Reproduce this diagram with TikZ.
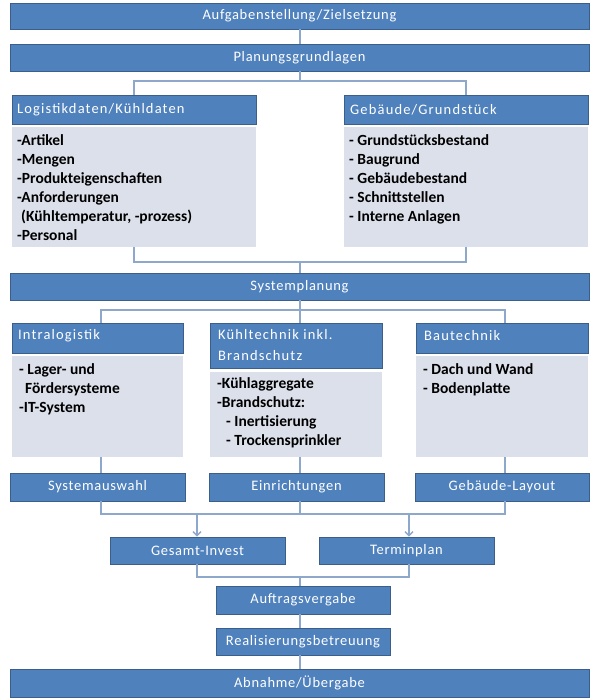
\documentclass[tikz,border=0pt]{standalone}
\usepackage{fontspec}
\setmainfont{Carlito}
\newfontfamily\barfont[LetterSpace=5]{Carlito}
\newfontfamily\headfont[LetterSpace=8]{Carlito}
\usetikzlibrary{arrows.meta}
\definecolor{barblue}{HTML}{4F81BD}
\definecolor{barline}{HTML}{3B5E8A}
\definecolor{bodyfill}{HTML}{DCE0EA}
\definecolor{conn}{HTML}{8DA8CB}
\tikzset{
 bar/.style={draw=barline, fill=barblue, line width=0.8pt, inner sep=0pt, text=white, font=\barfont\fontsize{14.5}{17}\selectfont},
 head/.style={fill=barblue, draw=barline, line width=0.6pt, inner sep=0pt},
 body/.style={fill=bodyfill, inner sep=0pt},
 htext/.style={text=white, inner sep=0pt, align=left, font=\headfont\fontsize{14.5}{21}\selectfont},
 btext/.style={inner sep=0pt, align=left, font=\fontsize{15.5}{19}\selectfont\bfseries},
 conline/.style={draw=conn, line width=1.4pt},
 arr/.style={conline, -{Straight Barb[length=4pt,width=8pt]}}
}
\begin{document}
\begin{tikzpicture}[x=1pt,y=-1pt]
\useasboundingbox[fill=white] (0,0) rectangle (600,699);
% bars
\node[bar, minimum width=579pt, minimum height=26pt] (top) at (299.5,16) {Aufgabenstellung/Zielsetzung};
\node[bar, minimum width=579pt, minimum height=27pt] (plan) at (299.5,57.5) {Planungsgrundlagen};
% planning basics
\node[head, minimum width=244pt, minimum height=29pt] (logHead) at (134,109.5) {};
\node[body, minimum width=244pt, minimum height=120pt] (logBody) at (134,187) {};
\node[head, minimum width=244pt, minimum height=29pt] (gebHead) at (466,109.5) {};
\node[body, minimum width=244pt, minimum height=120pt] (gebBody) at (466,187) {};
\node[htext, anchor=west] (logHT) at (17,109.5) {Logistikdaten/Kühldaten};
\node[htext, anchor=west] (gebHT) at (350,109.5) {Gebäude/Grundstück};
\node[btext, anchor=north west] (logBT) at (17,134) {-Artikel\\-Mengen\\-Produkteigenschaften\\-Anforderungen\\\hspace*{4pt}(Kühltemperatur, -prozess)\\-Personal};
\node[btext, anchor=north west] (gebBT) at (349,134) {- Grundstücksbestand\\- Baugrund\\- Gebäudebestand\\- Schnittstellen\\- Interne Anlagen};
% system planning
\node[bar, minimum width=579pt, minimum height=27pt] (sys) at (299.5,286.5) {Systemplanung};
\node[head, minimum width=171pt, minimum height=30pt] (intraHead) at (97.5,338) {};
\node[body, minimum width=171pt, minimum height=101pt] (intraBody) at (97.5,406.5) {};
\node[head, minimum width=172pt, minimum height=45pt] (kuehlHead) at (296,345.5) {};
\node[body, minimum width=172pt, minimum height=85pt] (kuehlBody) at (296,414.5) {};
\node[head, minimum width=172pt, minimum height=30pt] (bauHead) at (502,338) {};
\node[body, minimum width=172pt, minimum height=101pt] (bauBody) at (502,406.5) {};
\node[htext, anchor=west] (intraHT) at (18,336) {Intralogistik};
\node[htext, anchor=west] (kuehlHT) at (218,345.5) {Kühltechnik inkl.\\Brandschutz};
\node[htext, anchor=west] (bauHT) at (424,336) {Bautechnik};
\node[btext, anchor=north west] (intraBT) at (19,363) {- Lager- und\\\hspace*{6pt}Fördersysteme\\-IT-System};
\node[btext, anchor=north west] (kuehlBT) at (217,377) {-Kühlaggregate\\-Brandschutz:\\\hspace*{9pt}- Inertisierung\\\hspace*{9pt}- Trockensprinkler};
\node[btext, anchor=north west] (bauBT) at (423,363) {- Dach und Wand\\- Bodenplatte};
% results row
\node[bar, minimum width=175pt, minimum height=28pt] (sysw) at (97.5,487) {Systemauswahl};
\node[bar, minimum width=175pt, minimum height=28pt] (einr) at (296.5,487) {Einrichtungen};
\node[bar, minimum width=174pt, minimum height=28pt] (geb) at (502,487) {Gebäude-Layout};
\node[bar, minimum width=175pt, minimum height=27pt] (ges) at (197.5,550.5) {Gesamt-Invest};
\node[bar, minimum width=175pt, minimum height=27pt] (term) at (406.5,550.5) {Terminplan};
\node[bar, minimum width=174pt, minimum height=28pt] (auf) at (303,600) {Auftragsvergabe};
\node[bar, minimum width=174pt, minimum height=27pt] (real) at (303,641.5) {Realisierungsbetreuung};
\node[bar, minimum width=579pt, minimum height=28pt] (abn) at (299.5,683) {Abnahme/Übergabe};
% connectors
\coordinate (j1) at (300,81);
\draw[conline] (top.south -| j1) -- (plan.north -| j1);
\draw[conline] (plan.south -| j1) -- (j1);
\draw[conline] (logHead.north) |- (j1) -| (gebHead.north);
\coordinate (j2) at (300,262);
\draw[conline] (logBody.south) |- (j2) -| (gebBody.south);
\draw[conline] (j2) -- (sys.north -| j2);
\coordinate (j3) at (300,310);
\coordinate (a1) at (101,310);
\coordinate (a3) at (505,310);
\draw[conline] (sys.south -| j3) -- (j3);
\draw[conline] (intraHead.north -| a1) -- (a1) -- (a3) -- (bauHead.north -| a3);
\draw[conline] (j3) -- (kuehlHead.north -| j3);
\draw[conline] (intraBody.south -| a1) -- (sysw.north -| a1);
\draw[conline] (kuehlBody.south -| j3) -- (einr.north -| j3);
\draw[conline] (bauBody.south -| a3) -- (geb.north -| a3);
\coordinate (j4) at (300,514);
\coordinate (b1) at (101,514);
\coordinate (b3) at (505,514);
\draw[conline] (sysw.south -| b1) -- (b1) -- (b3) -- (geb.south -| b3);
\draw[conline] (einr.south -| j4) -- (j4);
\coordinate (g1) at (197,514);
\coordinate (g2) at (409,514);
\draw[arr] (g1) -- (ges.north -| g1);
\draw[arr] (g2) -- (term.north -| g2);
\coordinate (j5) at (300,577);
\draw[conline] (ges.south -| g1) |- (j5) -| (term.south -| g2);
\draw[conline] (j5) -- (auf.north -| j5);
\draw[conline] (auf.south -| j5) -- (real.north -| j5);
\draw[conline] (real.south -| j5) -- (abn.north -| j5);
\end{tikzpicture}
\end{document}
